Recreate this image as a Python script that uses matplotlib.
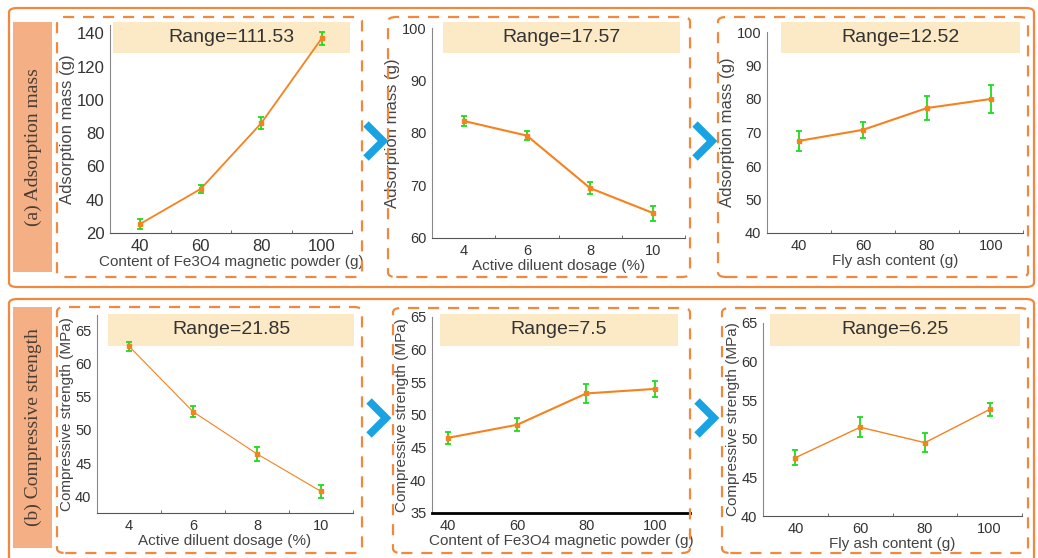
import matplotlib.pyplot as plt
from matplotlib.patches import FancyBboxPatch, Rectangle
from matplotlib.lines import Line2D

plt.rcParams['font.family'] = ['Liberation Sans', 'DejaVu Sans']

W, H = 1038, 558

# data
fe_x = [40, 60, 80, 100]
dil_x = [4, 6, 8, 10]
ash_x = [40, 60, 80, 100]

ads_fe = [25.5, 46.5, 86.0, 137.03]
ads_fe_err = [3.0, 2.5, 3.5, 4.0]
ads_dil = [82.3, 79.5, 69.5, 64.73]
ads_dil_err = [1.0, 0.9, 1.1, 1.4]
ads_ash = [67.5, 70.8, 77.3, 80.02]
ads_ash_err = [3.0, 2.3, 3.5, 4.2]

cs_dil = [62.6, 52.75, 46.4, 40.75]
cs_dil_err = [0.7, 0.8, 1.1, 1.0]
cs_fe = [46.5, 48.5, 53.3, 54.0]
cs_fe_err = [0.9, 1.0, 1.5, 1.2]
cs_ash = [47.55, 51.5, 49.5, 53.8]
cs_ash_err = [1.0, 1.3, 1.2, 0.8]

ranges = ['111.53', '17.57', '12.52', '21.85', '7.5', '6.25']

orange = '#F0883E'
fill = '#F4B084'
band = '#FCE9C6'
line_c = '#F5821F'
green = '#1EDC1E'
blue = '#1AA3E2'

fig = plt.figure(figsize=(W / 100, H / 100), dpi=100)


def fx(x):
    return x / W


def fy(y):
    return 1 - y / H


def fbox(x0, y0, x1, y1, **kw):
    p = FancyBboxPatch((fx(x0), fy(y1)), fx(x1) - fx(x0), fy(y0) - fy(y1),
                       boxstyle='round,pad=0,rounding_size=0.008',
                       transform=fig.transFigure, **kw)
    fig.patches.append(p)


# outer boxes
fbox(9, 8, 1034, 287, facecolor='none', edgecolor=orange, lw=1.6)
fbox(9, 299, 1034, 575, facecolor='none', edgecolor=orange, lw=1.6)
# row labels
for y0, y1, txt in [(22, 272, '(a) Adsorption mass'), (307, 548, '(b) Compressive strength')]:
    fig.patches.append(Rectangle((fx(13), fy(y1)), fx(52) - fx(13), fy(y0) - fy(y1),
                                 transform=fig.transFigure, facecolor=fill, edgecolor='none'))
    fig.text(fx(33), fy((y0 + y1) / 2), txt, rotation=90, ha='center', va='center',
             fontsize=14, color='#4a3d35', family=['Liberation Serif', 'DejaVu Serif'])

# dashed boxes
for x0, y0, x1, y1 in [(57, 17, 362, 277), (388, 17, 690, 277), (718, 17, 1028, 277),
                       (57, 307, 362, 553), (393, 308, 690, 553), (722, 308, 1028, 553)]:
    fbox(x0, y0, x1, y1, facecolor='none', edgecolor=orange, lw=1.6, linestyle=(0, (5, 4)))

# chevrons
for cx, cy in [(375, 141), (704, 141), (378, 418), (706, 418)]:
    fig.lines.append(Line2D([fx(cx - 9), fx(cx + 8), fx(cx - 9)],
                            [fy(cy - 17), fy(cy), fy(cy + 17)],
                            transform=fig.transFigure, color=blue, lw=5.5,
                            solid_joinstyle='miter', solid_capstyle='butt'))

panels = [
    # left, top, right, bottom (px), x, y, err, xlim, ylim, yticks, xlabel, ylabel, lw, tick size, label size
    ((110, 25, 352, 233), fe_x, ads_fe, ads_fe_err, (30, 110), (20, 145),
     range(20, 141, 20), 'Content of Fe3O4 magnetic powder (g)', 'Adsorption mass (g)', 1.3, 12, 12),
    ((432, 28, 685, 238), dil_x, ads_dil, ads_dil_err, (3, 11), (60, 100),
     range(60, 101, 10), 'Active diluent dosage (%)', 'Adsorption mass (g)', 1.5, 10.5, 12),
    ((767, 32, 1023, 233), ash_x, ads_ash, ads_ash_err, (30, 110), (40, 100),
     range(40, 101, 10), 'Fly ash content (g)', 'Adsorption mass (g)', 1.5, 10.5, 12),
    ((97, 315, 353, 513), dil_x, cs_dil, cs_dil_err, (3, 11), (37.5, 67.3),
     range(40, 66, 5), 'Active diluent dosage (%)', 'Compressive strength (MPa)', 0.8, 10.5, 11),
    ((432, 317, 690, 513), fe_x, cs_fe, cs_fe_err, (35.4, 109), (35, 65),
     range(35, 66, 5), 'Content of Fe3O4 magnetic powder (g)', 'Compressive strength (MPa)', 1.5, 10.5, 11),
    ((763, 323, 1022, 516), ash_x, cs_ash, cs_ash_err, (30, 110), (40, 65),
     range(40, 66, 5), 'Fly ash content (g)', 'Compressive strength (MPa)', 1.0, 10.5, 11),
]

band_px = [(22, 53), (22, 53), (22, 53), (314, 346), (314, 346), (314, 346)]
band_x = [(113, 350), (443, 680), (781, 1020), (108, 354), (440, 678), (770, 1020)]

for i, (box, xs, ys, es, xl, yl, yt, xlab, ylab, lw, tsz, lsz) in enumerate(panels):
    l, t, r, b = box
    ax = fig.add_axes([fx(l), fy(b), fx(r) - fx(l), fy(t) - fy(b)])
    ax.set_xlim(*xl)
    ax.set_ylim(*yl)
    # range band (axes coords)
    by0, by1 = band_px[i]
    bx0, bx1 = band_x[i]
    ax.add_patch(Rectangle(((bx0 - l) / (r - l), (b - by1) / (b - t)),
                           (bx1 - bx0) / (r - l), (by1 - by0) / (b - t),
                           transform=ax.transAxes, facecolor=band, edgecolor='none',
                           zorder=0, clip_on=False))
    ax.text(((bx0 + bx1) / 2 - l) / (r - l), (b - (by0 + by1) / 2) / (b - t),
            'Range=' + ranges[i], transform=ax.transAxes, ha='center', va='center',
            fontsize=14, color='#333333')
    ax.plot(xs, ys, color=line_c, lw=lw, zorder=2)
    ax.errorbar(xs, ys, yerr=es, fmt='none', ecolor=green, elinewidth=1.3,
                capsize=2, capthick=1.3, zorder=3)
    ax.plot(xs, ys, 's', color=line_c, ms=3, zorder=4)
    ax.set_xticks(xs)
    step = xs[1] - xs[0]
    ax.set_xticks([x + step / 2 for x in xs], minor=True)
    ax.set_yticks(list(yt))
    ax.tick_params(axis='both', which='major', length=0, labelsize=tsz, labelcolor='#333333', pad=4)
    ax.tick_params(axis='x', which='minor', length=2, direction='in', color='#555555')
    ax.set_xlabel(xlab, fontsize=11, color='#444444', labelpad=1)
    ax.set_ylabel(ylab, fontsize=lsz, color='#444444', labelpad=1)
    for s in ['top', 'right']:
        ax.spines[s].set_visible(False)
    ax.spines['left'].set_color('#888888')
    ax.spines['bottom'].set_color('#555555')
    if i == 4:
        ax.spines['bottom'].set_color('black')
        ax.spines['bottom'].set_linewidth(2)
        ax.tick_params(axis='x', which='minor', length=0)
    ax.patch.set_alpha(0)

fig.savefig('out.png', dpi=100)
